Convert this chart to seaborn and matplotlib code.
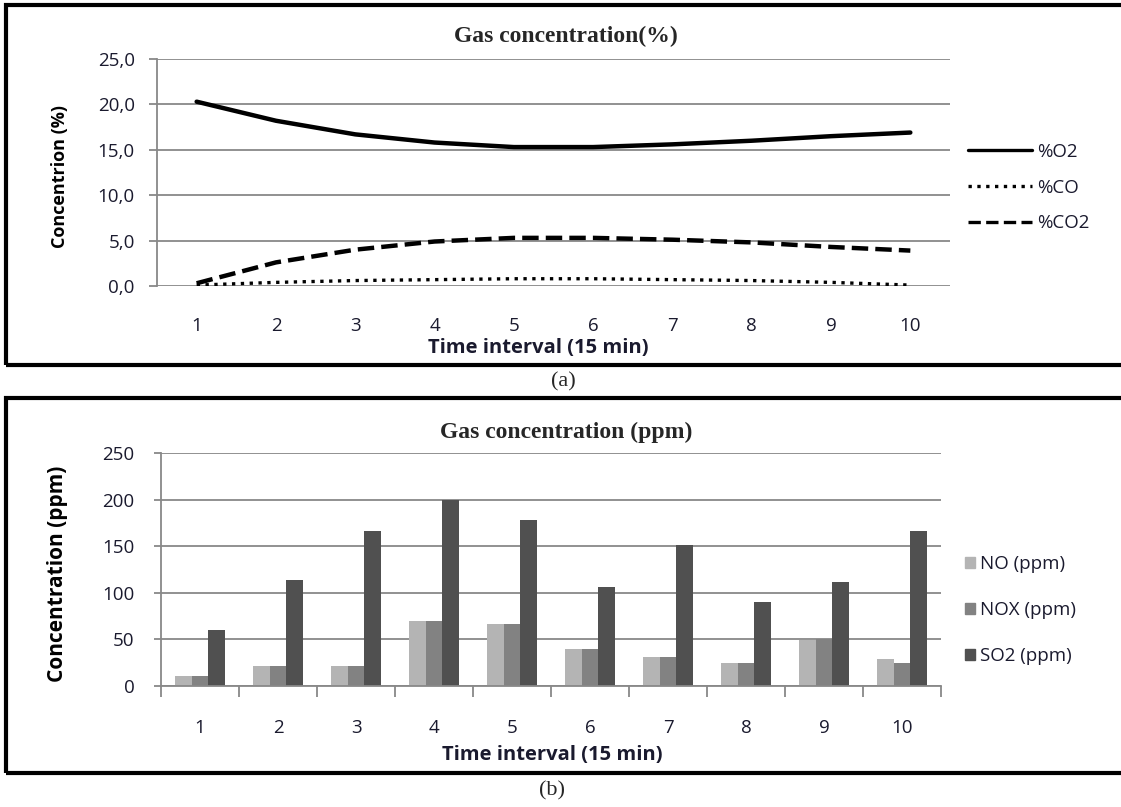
import numpy as np
import pandas as pd
import seaborn as sns
import matplotlib.pyplot as plt
from matplotlib.patches import Rectangle
from matplotlib.lines import Line2D

# %% data
intervals = [1, 2, 3, 4, 5, 6, 7, 8, 9, 10]
o2 = [20.3, 18.2, 16.7, 15.8, 15.3, 15.3, 15.6, 16.0, 16.5, 16.9]
co = [0.1, 0.4, 0.6, 0.7, 0.8, 0.8, 0.7, 0.6, 0.4, 0.1]
co2 = [0.3, 2.6, 4.0, 4.9, 5.3, 5.3, 5.1, 4.8, 4.3, 3.9]

no_ppm = [11, 21, 21, 70, 66, 40, 31, 25, 49, 29]
nox_ppm = [11, 21, 21, 70, 66, 40, 31, 25, 50, 25]
so2_ppm = [60, 114, 166, 200, 178, 106, 151, 90, 112, 166]

pct_ticks = [0, 5, 10, 15, 20, 25]
ppm_ticks = [0, 50, 100, 150, 200, 250]

# %% style
sns.set_theme(style="white")
plt.rcParams['font.family'] = ['Open Sans', 'DejaVu Sans']
W, H = 1121, 807
fig = plt.figure(figsize=(W / 100, H / 100), dpi=100)

def fx(px):
    return px / W

def fy(py):
    return 1 - py / H

grid_c = '#888888'
lab_c = '#1a1a2e'
TICK = 13.5

# panel frames
for top, bot in [(5, 365), (398, 773)]:
    fig.add_artist(Rectangle((fx(6), fy(bot)), fx(1130) - fx(6), fy(top) - fy(bot),
                             transform=fig.transFigure, fill=False, lw=3, ec='black'))

# %% (a) line chart
ax1 = fig.add_axes([fx(157), fy(286), fx(950) - fx(157), fy(59) - fy(286)])
df_pct = pd.DataFrame({'interval': intervals, '%O2': o2, '%CO': co, '%CO2': co2})
styles = {'%O2': '-', '%CO': ':', '%CO2': '--'}
for name, ls in styles.items():
    sns.lineplot(data=df_pct, x='interval', y=name, ax=ax1, color='black',
                 lw=2.4 if name == '%CO' else 3.2, linestyle=ls, legend=False)
ax1.set_xlim(0.5, 10.5)
ax1.set_ylim(0, 25)
ax1.set_yticks(pct_ticks)
ax1.set_yticklabels([f"{v:.1f}".replace('.', ',') for v in pct_ticks])
ax1.set_xticks(intervals)
ax1.grid(axis='y', color=grid_c, lw=1.3)
for s in ['top', 'right', 'bottom']:
    ax1.spines[s].set_visible(False)
ax1.spines['left'].set_color(grid_c)
ax1.spines['left'].set_linewidth(1.3)
ax1.tick_params(axis='y', length=6, width=1.3, color=grid_c, pad=10, labelsize=TICK,
                labelcolor=lab_c, left=True)
ax1.tick_params(axis='x', length=0, pad=22, labelsize=TICK, labelcolor=lab_c)
ax1.set_xlabel('')
ax1.set_ylabel('')

fig.text(fx(566), fy(36), 'Gas concentration(%)', family='Liberation Serif', weight='bold',
         fontsize=17, ha='center', va='center')
fig.text(fx(538), fy(348), 'Time interval (15 min)', weight='bold', fontsize=14.5,
         ha='center', va='center', color=lab_c)
fig.text(fx(60), fy(176), 'Concentrion (%)', weight='bold', fontsize=13, rotation=90,
         ha='center', va='center', color='black')

handles = [Line2D([], [], color='black', lw=2.4, linestyle=ls) for ls in styles.values()]
fig.legend(handles, list(styles.keys()), loc='upper left', bbox_to_anchor=(fx(951), fy(126)),
           frameon=False, fontsize=13.5, handlelength=3.4, handletextpad=0.3, labelspacing=0.95,
           labelcolor=lab_c)

fig.text(fx(563), fy(382), '(a)', family='Liberation Serif', fontsize=16, ha='center', va='center')

# %% (b) bar chart
ax2 = fig.add_axes([fx(161), fy(686), fx(941) - fx(161), fy(453) - fy(686)])
df_ppm = pd.DataFrame({'interval': intervals, 'NO (ppm)': no_ppm,
                       'NOX (ppm)': nox_ppm, 'SO2 (ppm)': so2_ppm})
long = df_ppm.melt(id_vars='interval', var_name='gas', value_name='ppm')
bar_cols = ['#b4b4b4', '#828282', '#505050']
sns.barplot(data=long, x='interval', y='ppm', hue='gas', palette=bar_cols, ax=ax2,
            width=0.65, linewidth=0, saturation=1, legend=False)
ax2.set_xlim(-0.5, 9.5)
ax2.set_ylim(0, 250)
ax2.set_yticks(ppm_ticks)
ax2.grid(axis='y', color=grid_c, lw=1.3)
ax2.set_axisbelow(True)
for s in ['top', 'right']:
    ax2.spines[s].set_visible(False)
for s in ['left', 'bottom']:
    ax2.spines[s].set_color(grid_c)
    ax2.spines[s].set_linewidth(1.3)
ax2.set_xticks(np.arange(-0.5, 10, 1), minor=True)
ax2.tick_params(axis='x', which='minor', length=8, width=1.3, color=grid_c, bottom=True)
ax2.tick_params(axis='x', which='major', length=0, pad=24, labelsize=TICK, labelcolor=lab_c)
ax2.tick_params(axis='y', length=5, width=1.3, color=grid_c, pad=14, labelsize=TICK,
                labelcolor=lab_c, left=True)
ax2.set_xlabel('')
ax2.set_ylabel('')

fig.text(fx(566), fy(432), 'Gas concentration (ppm)', family='Liberation Serif', weight='bold',
         fontsize=17, ha='center', va='center')
fig.text(fx(552), fy(755), 'Time interval (15 min)', weight='bold', fontsize=14.5,
         ha='center', va='center', color=lab_c)
fig.text(fx(58), fy(574), 'Concentration (ppm)', weight='bold', fontsize=15, rotation=90,
         ha='center', va='center', color='black')

sq = [Rectangle((0, 0), 1, 1, color=c) for c in bar_cols]
fig.legend(sq, list(df_ppm.columns[1:]), loc='upper left', bbox_to_anchor=(fx(948), fy(538)),
           frameon=False, fontsize=13.5, handlelength=0.55, handleheight=0.55, handletextpad=0.25,
           labelspacing=1.5, labelcolor=lab_c)

fig.text(fx(552), fy(791), '(b)', family='Liberation Serif', fontsize=16, ha='center', va='center')

fig.savefig('out.png', dpi=100)
